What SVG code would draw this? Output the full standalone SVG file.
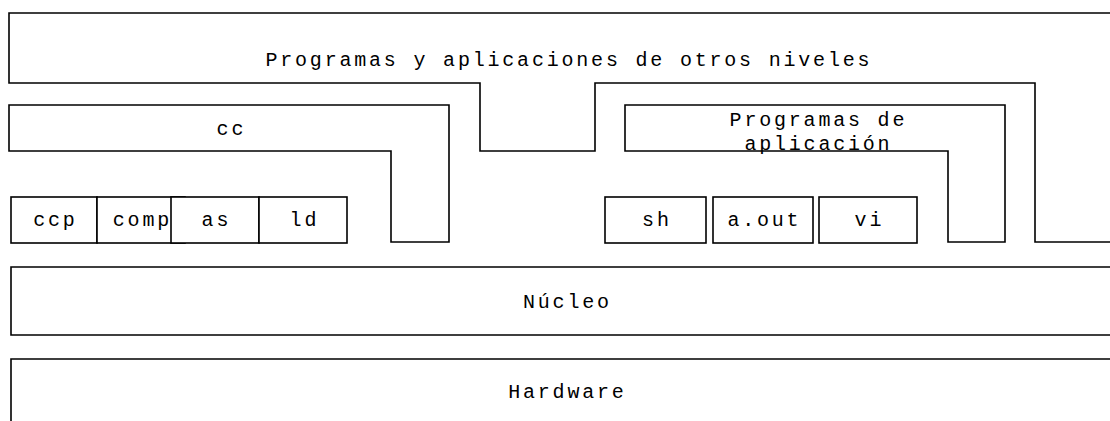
<svg xmlns="http://www.w3.org/2000/svg" width="1110" height="421" viewBox="0 0 1110 421">
  <style>
    .shape { fill: #ffffff; stroke: #000000; stroke-width: 1.6; }
    .lbl { font-family: "Liberation Mono", "DejaVu Sans Mono", monospace; font-size: 20px; letter-spacing: 2.8px; fill: #000000; text-anchor: middle; }
  </style>
  <rect x="0" y="0" width="1110" height="421" fill="#ffffff"/>
  <g id="otros-niveles">
    <path class="shape" d="M 1115 13 H 9 V 83 H 480 V 151 H 595 V 83 H 1035 V 242 H 1115"/>
    <text class="lbl" x="568.9" y="66">Programas y aplicaciones de otros niveles</text>
  </g>
  <g id="cc">
    <path class="shape" d="M 9 105 H 449 V 242 H 391 V 151 H 9 Z"/>
    <text class="lbl" x="231.4" y="135">cc</text>
  </g>
  <g id="programas-aplicacion">
    <path class="shape" d="M 625 105 H 1005 V 242 H 948 V 151 H 625 Z"/>
    <text class="lbl" x="818.4" y="126"><tspan x="818.4" y="126">Programas de</tspan><tspan x="818.4" y="149.5">aplicación</tspan></text>
  </g>
  <g id="ccp">
    <rect class="shape" x="11" y="197" width="86" height="46"/>
    <text class="lbl" x="55.4" y="226">ccp</text>
  </g>
  <g id="comp">
    <rect class="shape" x="97" y="197" width="88" height="46"/>
    <text class="lbl" x="142.4" y="226">comp</text>
  </g>
  <g id="as">
    <rect class="shape" x="171" y="197" width="88" height="46"/>
    <text class="lbl" x="216.4" y="226">as</text>
  </g>
  <g id="ld">
    <rect class="shape" x="259" y="197" width="88" height="46"/>
    <text class="lbl" x="304.4" y="226">ld</text>
  </g>
  <g id="sh">
    <rect class="shape" x="605" y="197" width="101" height="46"/>
    <text class="lbl" x="656.9" y="226">sh</text>
  </g>
  <g id="a-out">
    <rect class="shape" x="713" y="197" width="100" height="46"/>
    <text class="lbl" x="764.4" y="226">a.out</text>
  </g>
  <g id="vi">
    <rect class="shape" x="819" y="197" width="98" height="46"/>
    <text class="lbl" x="869.4" y="226">vi</text>
  </g>
  <g id="nucleo">
    <path class="shape" d="M 1115 267 H 11 V 335 H 1115"/>
    <text class="lbl" x="567.4" y="308">Núcleo</text>
  </g>
  <g id="hardware">
    <path class="shape" d="M 1115 359 H 11 V 425 H 1115"/>
    <text class="lbl" x="567.4" y="398">Hardware</text>
  </g>
  <g id="connectors"></g>
</svg>
